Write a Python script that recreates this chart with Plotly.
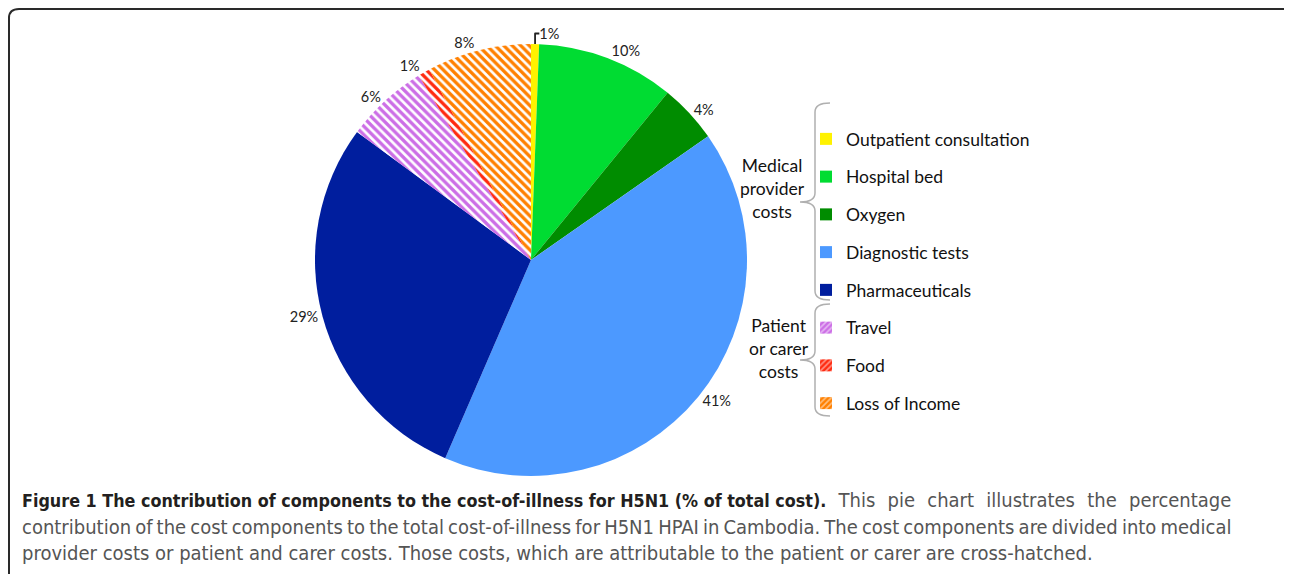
import plotly.graph_objects as go

W, H = 1292, 574
OX, OY = 8, 8  # page body margin compensation

categories = ["Outpatient consultation", "Hospital bed", "Oxygen", "Diagnostic tests",
              "Pharmaceuticals", "Travel", "Food", "Loss of Income"]
values = [0.6, 10.3, 4.4, 41.2, 28.6, 6.2, 0.9, 7.8]
colors = ["#FFF200", "#00DC32", "#008C00", "#4C99FF", "#001E9E", "#CC6EE6", "#FF2A10", "#FF8000"]
hatched = [False, False, False, False, False, True, True, True]
group_labels = ["Medical<br>provider<br>costs", "Patient<br>or carer<br>costs"]
caption_bold = "Figure 1 The contribution of components to the cost-of-illness for H5N1 (% of total cost)."
caption_lines = [
    " This pie chart illustrates the percentage",
    "contribution of the cost components to the total cost-of-illness for H5N1 HPAI in Cambodia. The cost components are divided into medical",
    "provider costs or patient and carer costs. Those costs, which are attributable to the patient or carer are cross-hatched.",
]

FONT = "Lato, 'Open Sans', sans-serif"
CAPFONT = "'Liberation Sans Narrow', 'DejaVu Sans Condensed', sans-serif"


def px(x):
    return (x - OX) / W


def py(y):
    return 1 - (y - OY) / H


fig = go.Figure()

cx, cy, r = 531, 260, 216
fig.add_trace(go.Pie(
    labels=categories, values=values, sort=False, direction="clockwise", rotation=0,
    marker=dict(
        colors=colors,
        line=dict(width=0),
        pattern=dict(
            shape=["\\" if h else "" for h in hatched],
            fgcolor=colors,
            bgcolor=["white" if h else c for h, c in zip(hatched, colors)],
            size=6, solidity=0.55, fillmode="replace",
        ),
    ),
    texttemplate="%{percent:.0%}", textposition="outside",
    textfont=dict(family=FONT, size=14.5, color="#222"),
    domain=dict(x=[px(cx - r), px(cx + r)], y=[py(cy + r), py(cy - r)]),
    showlegend=False, hoverinfo="label+percent",
))

# legend entries
for i, (cat, col, h) in enumerate(zip(categories, colors, hatched)):
    fig.add_trace(go.Bar(
        x=[None], y=[None], name=cat, legendgroup=f"g{i}",
        marker=dict(color=col, line=dict(width=0),
                    pattern=dict(shape="/" if h else "", fgcolor="white",
                                 bgcolor=col, size=5, solidity=0.4)),
        showlegend=True,
    ))

shapes = []
# rounded frame
frame = (f"M {px(9)},{py(580)} L {px(9)},{py(18)} Q {px(9)},{py(9)} {px(19)},{py(9)} "
         f"L {px(1283)},{py(9)} Q {px(1292)},{py(9)} {px(1292)},{py(18)} L {px(1292)},{py(590)}")
shapes.append(dict(type="path", path=frame, xref="paper", yref="paper",
                   line=dict(color="#2a2a2a", width=2)))


def brace(top, tip, bottom, xl=815, xr=830, xt=800):
    return (f"M {px(xr)},{py(top)} Q {px(xl)},{py(top)} {px(xl)},{py(top + 9)} "
            f"L {px(xl)},{py(tip - 9)} Q {px(xl)},{py(tip)} {px(xt)},{py(tip)} "
            f"Q {px(xl)},{py(tip)} {px(xl)},{py(tip + 9)} "
            f"L {px(xl)},{py(bottom - 9)} Q {px(xl)},{py(bottom)} {px(xr)},{py(bottom)}")


for (t, m, b) in [(103, 202, 300), (304, 360, 416)]:
    shapes.append(dict(type="path", path=brace(t, m, b), xref="paper", yref="paper",
                       line=dict(color="#b0b0b0", width=1.5)))

annotations = [
    dict(x=px(773), y=py(189), text=group_labels[0], showarrow=False, xref="paper", yref="paper",
         xanchor="center", yanchor="middle", align="center",
         font=dict(family=FONT, size=17.5, color="#111")),
    dict(x=px(779), y=py(348), text=group_labels[1], showarrow=False, xref="paper", yref="paper",
         xanchor="center", yanchor="middle", align="center",
         font=dict(family=FONT, size=17.5, color="#111")),
]

cap_y = [500, 527, 553]
annotations.append(dict(
    x=px(20), y=py(cap_y[0]), xref="paper", yref="paper", showarrow=False,
    xanchor="left", yanchor="middle", align="left",
    text=(f"<span style='font-size:17.8px'><b>{caption_bold}</b></span>"
          f"<span style='color:#555;word-spacing:6.5px'>{caption_lines[0]}</span>"),
    font=dict(family=CAPFONT, size=20, color="#231f20")))
annotations.append(dict(
    x=px(20), y=py(cap_y[1]), xref="paper", yref="paper", showarrow=False,
    xanchor="left", yanchor="middle", align="left",
    text=f"<span style='word-spacing:-1.6px'>{caption_lines[1]}</span>",
    font=dict(family=CAPFONT, size=20, color="#555")))
annotations.append(dict(
    x=px(20), y=py(cap_y[2]), xref="paper", yref="paper", showarrow=False,
    xanchor="left", yanchor="middle", align="left", text=caption_lines[2],
    font=dict(family=CAPFONT, size=20, color="#555")))

fig.update_layout(
    width=W, height=H, margin=dict(l=0, r=0, t=0, b=0),
    paper_bgcolor="white", plot_bgcolor="white",
    xaxis=dict(visible=False), yaxis=dict(visible=False),
    shapes=shapes, annotations=annotations,
    legend=dict(x=px(806), y=py(121), xanchor="left", yanchor="top",
                font=dict(family=FONT, size=17.5, color="#111"),
                tracegroupgap=12, bgcolor="rgba(0,0,0,0)", itemclick=False),
)

fig.write_html("out.html")
